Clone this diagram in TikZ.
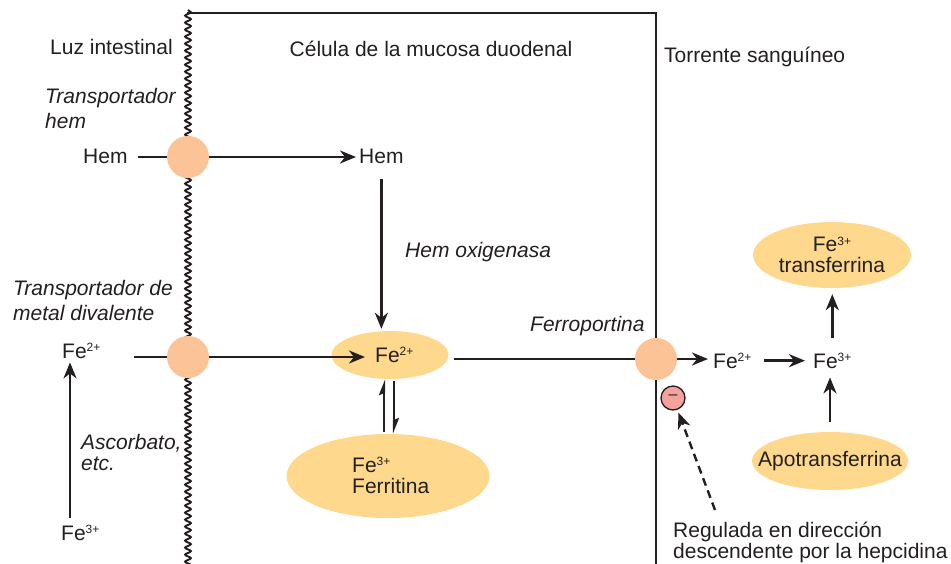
\documentclass[tikz,border=0pt]{standalone}
\usepackage{fontspec}
\setmainfont{Liberation Sans}
\usetikzlibrary{arrows.meta,decorations.pathmorphing,shapes.geometric}
\definecolor{peach}{RGB}{252,196,150}
\definecolor{ellyel}{RGB}{254,216,141}
\definecolor{minusred}{RGB}{244,162,156}
\definecolor{ink}{RGB}{35,31,32}
\newcommand\supx[1]{\raisebox{6.5pt}{\fontsize{12}{12}\selectfont #1}}
\pgfdeclarelayer{back}
\pgfdeclarelayer{lines}
\pgfsetlayers{back,lines,main}
\begin{document}
\begin{tikzpicture}[x=1pt,y=-1pt,
  every node/.style={font=\fontsize{21}{25}\selectfont, inner sep=0pt, text=ink},
  it/.style={font=\fontsize{21}{25}\selectfont\itshape},
  porta/.style={circle, fill=peach, minimum size=42pt},
  blob/.style={ellipse, fill=ellyel},
  ln/.style={line width=2.4pt, draw=ink},
  arr/.style={ln, -{Stealth[length=16pt,width=13pt,inset=5pt]}},
  harp/.style={line width=2.2pt, draw=ink, -{Stealth[harpoon,length=13pt,width=10pt,inset=2pt]}},
]
\useasboundingbox (0,0) rectangle (951,563);

% transporters
\node[porta] (hemt) at (188,157) {};
\node[porta] (dmt) at (188,357) {};
\node[porta] (fp) at (656,359) {};

% ellipses
\begin{pgfonlayer}{back}
\node[blob, minimum width=117pt, minimum height=48pt] (fe2e) at (390,355) {};
\node[blob, minimum width=203pt, minimum height=84pt] (ferr) at (388,476) {};
\node[blob, minimum width=158pt, minimum height=66pt] (tf) at (832,255) {};
\node[blob, minimum width=156pt, minimum height=58pt] (apo) at (830,461) {};
\end{pgfonlayer}
\node[align=center, font=\fontsize{21}{21}\selectfont] (tft) at (tf) {Fe\supx{3+}\\transferrina};
\node (apot) at (apo) {Apotransferrina};

% region labels
\node[anchor=base west] (luz) at (50,54) {Luz intestinal};
\node[anchor=base] (cel) at (431,56) {Célula de la mucosa duodenal};
\node[anchor=base west] (tor) at (664,62) {Torrente sanguíneo};

% italic labels
\node[it, anchor=base west, align=left] (them) at (45,128) {Transportador\\hem};
\node[it, anchor=base west] (hox) at (405,257) {Hem oxigenasa};
\node[it, anchor=base west, align=left] (tdmt) at (13,320) {Transportador de\\metal divalente};
\node[it, anchor=base west] (fpl) at (530,331) {Ferroportina};
\node[it, anchor=base west, align=left, font=\fontsize{21}{21}\selectfont\itshape] (asc) at (81,470) {Ascorbato,\\etc.};

% species
\node[anchor=base west] (heml) at (83,163) {Hem};
\node[anchor=base west] (hemr) at (359,163) {Hem};
\node[anchor=base west] (fe2l) at (62,358) {Fe\supx{2+}};
\node[anchor=base west] (fe3b) at (61,540) {Fe\supx{3+}};
\node[anchor=base west] (fe2c) at (375,362) {Fe\supx{2+}};
\node[anchor=base west] (fe2r) at (713,368) {Fe\supx{2+}};
\node[anchor=base west] (fe3r) at (813,368) {Fe\supx{3+}};
\node[anchor=base west, align=left, font=\fontsize{21}{21}\selectfont] (fert) at (352,493) {Fe\supx{3+}\\Ferritina};
\node[anchor=base west, align=left, font=\fontsize{21}{21}\selectfont] (reg) at (673,558) {Regulada en dirección\\descendente por la hepcidina};

% minus sign
\node[circle, fill=minusred, draw=ink, line width=1.3pt, minimum size=24pt, font=\fontsize{16}{16}\selectfont] (minus) at (673,398) {\raisebox{1pt}{–}};
\coordinate (hepc) at (715,510);

\begin{pgfonlayer}{lines}
% membranes
\draw[line width=1.9pt, draw=ink, decorate, decoration={snake, amplitude=2.9pt, segment length=7pt}] (188,10) -- (188,570);
\draw[line width=2.6pt, draw=ink] (187,13) -- (656,13) -- (656,570);
% hem path
\draw[ln, shorten <=10pt] (heml.east |- hemt.center) -- (hemt);
\draw[arr, shorten >=3pt] (hemt) -- (hemt -| hemr.west);
\draw[arr, shorten <=16pt, shorten >=2pt] (hemr.south) -- (hemr.south |- fe2e.north);
% Fe2+ uptake
\draw[ln, shorten <=33pt] (fe2l.east |- dmt.center) -- (dmt);
\draw[arr, shorten >=10pt] (dmt) -- (dmt -| fe2c.west);
\draw[arr, shorten <=7pt, shorten >=4pt] ([xshift=9pt]fe3b.north west) -- ([xshift=8pt]fe2l.south west);
% ferritin equilibrium
\draw[harp] (384,432) coordinate (h1) -- (h1 |- fe2e.south);
\draw[harp] (394,381) coordinate (h2) -- (h2 |- ferr.north);
% export
\draw[ln, shorten <=5pt] (fe2e.east |- fp.center) -- (fp);
\draw[arr, shorten >=5pt] (fp) -- (fp -| fe2r.west);
\draw[arr, shorten <=12pt, shorten >=8pt] (fe2r.east) -- (fe3r.west);
\draw[arr, shorten <=15pt, shorten >=6pt] (fe3r.north) -- (fe3r.north |- tf.south);
\draw[arr, shorten <=10pt, shorten >=9pt] (apo.north) -- (apo.north |- fe3r.south);
% hepcidin
\draw[ln, dash pattern=on 8pt off 5pt, -{Stealth[length=16pt,width=13pt,inset=5pt]}, shorten >=3pt] (hepc) -- (minus);
\end{pgfonlayer}
\end{tikzpicture}
\end{document}
